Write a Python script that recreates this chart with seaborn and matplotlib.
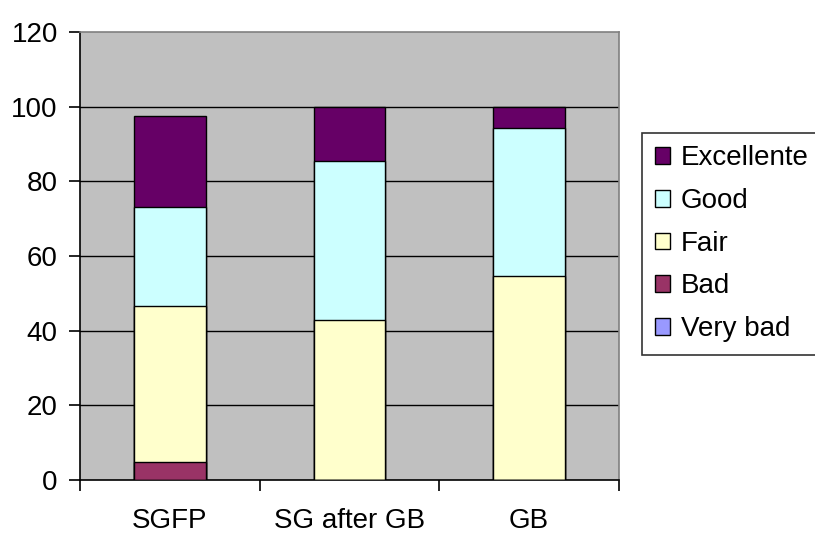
import numpy as np
import pandas as pd
import matplotlib
matplotlib.use("Agg")
import matplotlib.pyplot as plt
from matplotlib.patches import Patch
from matplotlib.ticker import FixedLocator, NullFormatter
import seaborn as sns

# Percentages of each rating per group
categories = ["SGFP", "SG after GB", "GB"]
very_bad = [0.0, 0.0, 0.0]
bad = [4.8, 0.0, 0.0]
fair = [41.8, 42.9, 54.6]
good = [26.5, 42.6, 39.7]
excellente = [24.4, 14.5, 5.7]

series_names = ["Very bad", "Bad", "Fair", "Good", "Excellente"]
series_colors = ["#9999FF", "#993366", "#FFFFCC", "#CCFFFF", "#660066"]
y_ticks = [0, 20, 40, 60, 80, 100, 120]

# Long table, then cumulative heights for stacking
df = pd.DataFrame({
    "group": categories * 5,
    "rating": np.repeat(series_names, len(categories)),
    "value": very_bad + bad + fair + good + excellente,
})
df["rating"] = pd.Categorical(df["rating"], categories=series_names, ordered=True)
df["group"] = pd.Categorical(df["group"], categories=categories, ordered=True)
df = df.sort_values(["group", "rating"])
df["cum"] = df.groupby("group", observed=True)["value"].cumsum()

sns.set_theme(style="white")
plt.rcParams["font.family"] = ["Liberation Sans", "DejaVu Sans"]
plt.rcParams["font.size"] = 20
plt.rcParams["text.color"] = "black"
plt.rcParams["xtick.color"] = "black"
plt.rcParams["ytick.color"] = "black"
plt.rcParams["xtick.labelcolor"] = "black"
plt.rcParams["ytick.labelcolor"] = "black"

fig = plt.figure(figsize=(8.15, 5.33), dpi=100)
ax = fig.add_axes([80 / 815, 53 / 533, 539 / 815, 448 / 533])
ax.set_facecolor("#C0C0C0")

# Draw the tallest cumulative layer first so lower layers sit on top of it
for name, color in zip(reversed(series_names), reversed(series_colors)):
    sub = df[df["rating"] == name]
    sns.barplot(data=sub, x="group", y="cum", order=categories, color=color,
                saturation=1, width=0.4, edgecolor="black", linewidth=1.0,
                errorbar=None, ax=ax, zorder=3)

ax.set_xlim(-0.5, 2.5)
ax.set_ylim(0, 120)
ax.set_yticks(y_ticks)
ax.set_yticklabels([str(v) for v in y_ticks])
ax.set_xlabel("")
ax.set_ylabel("")

# Horizontal grid lines
for v in y_ticks[1:-1]:
    ax.axhline(v, color="black", linewidth=1.0, zorder=1)

# Category labels centred, tick marks on the category boundaries
ax.set_xticks(range(len(categories)))
ax.set_xticklabels(categories)
ax.tick_params(axis="x", which="major", length=0, pad=20, labelsize=20,
               labelcolor="black")
ax.xaxis.set_minor_locator(FixedLocator([-0.5, 0.5, 1.5, 2.5]))
ax.xaxis.set_minor_formatter(NullFormatter())
ax.tick_params(axis="x", which="minor", length=8, width=1.2, color="black",
               direction="out", bottom=True)
ax.tick_params(axis="y", length=8, width=1.2, color="black", direction="out",
               left=True, pad=8, labelsize=20, labelcolor="black")

for side in ["left", "bottom"]:
    ax.spines[side].set_color("black")
    ax.spines[side].set_linewidth(1.2)
for side in ["top", "right"]:
    ax.spines[side].set_color("#808080")
    ax.spines[side].set_linewidth(1.2)

handles = [Patch(facecolor=c, edgecolor="black", linewidth=1.0, label=n)
           for n, c in zip(reversed(series_names), reversed(series_colors))]
leg = fig.legend(handles=handles, loc="upper left",
                 bbox_to_anchor=(642 / 815, 1 - 133 / 533),
                 frameon=True, fancybox=False, shadow=False, fontsize=20,
                 handlelength=0.55, handleheight=0.55, handletextpad=0.4,
                 labelspacing=0.6, borderpad=0.45, borderaxespad=0)
leg.get_frame().set_edgecolor("black")
leg.get_frame().set_linewidth(1.2)
leg.get_frame().set_facecolor("white")
for t in leg.get_texts():
    t.set_color("black")

fig.savefig("out.png", dpi=100)
